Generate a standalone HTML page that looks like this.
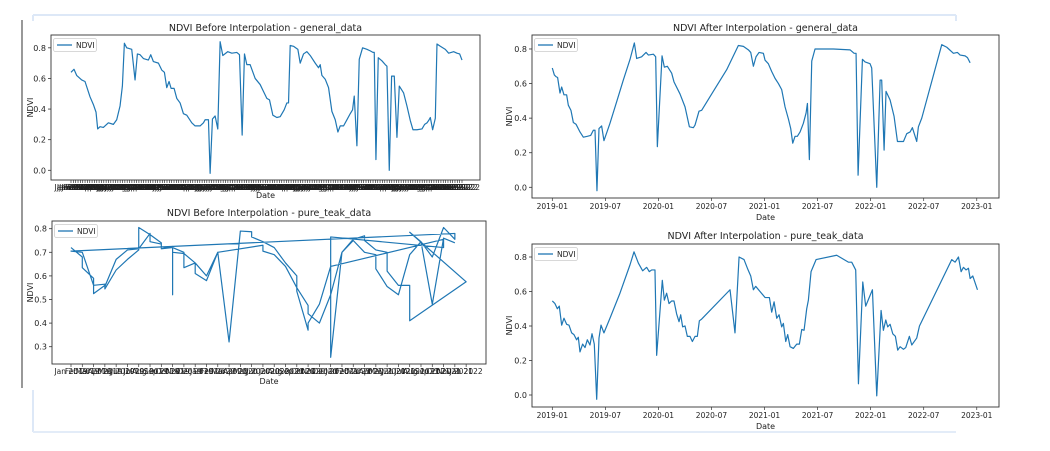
<!DOCTYPE html>
<html><head><meta charset="utf-8"><style>
html,body{margin:0;padding:0;background:#fff;}
svg{display:block;font-family:"DejaVu Sans","Liberation Sans",sans-serif;}
</style></head><body>
<svg id="svg" width="1050" height="451" viewBox="0 0 1050 451" xmlns="http://www.w3.org/2000/svg">
<g>
<line x1="33" y1="15" x2="956" y2="15" stroke="#dde8f7" stroke-width="2"/>
<line x1="33" y1="15" x2="33" y2="21" stroke="#dde8f7" stroke-width="2"/>
<line x1="956" y1="15" x2="956" y2="21" stroke="#dde8f7" stroke-width="2"/>
<line x1="22" y1="20" x2="22" y2="388" stroke="#555" stroke-width="1.2"/>
<line x1="33" y1="390" x2="33" y2="432" stroke="#dde8f7" stroke-width="2"/>
<line x1="33" y1="432" x2="956" y2="432" stroke="#e3ecf8" stroke-width="2"/>
</g>
</svg>
<script>
// ---- Chart 1: before interpolation, general_data (x = observation position) ----
const genBeforeObs = [0,9,17,32,42,57,67,75,80,87,97,112,127,137,147,154,160,167,182,192,199,207,217,232,239,247,262,272,280,287,294,300,309,317,327,337,347,362,372,387,397,402,412,417,424,432,440,447,455,470,482,497,505,513,520,527,537,552,567,577,587,595,605,617,627,639,647,652,657,667,680,687,697,707,717,732,742,747,752,762,772,782,792,800,807,817,827,837,844,849,857,864,874,887,897,905,909,914,921,932,942,947,954,961,969,977,984,997,1007,1017,1025,1037,1052,1060,1067,1072,1077,1084,1092,1097,1107,1122,1132,1147,1157,1165,1172];
const genBeforeNdvi = [.64,.66,.62,.59,.58,.48,.43,.38,.27,.285,.28,.31,.30,.33,.42,.55,.83,.80,.79,.59,.76,.755,.73,.72,.755,.71,.70,.655,.64,.54,.58,.535,.535,.47,.44,.37,.36,.31,.29,.29,.31,.33,.33,-.02,.335,.355,.27,.84,.75,.775,.765,.77,.755,.23,.76,.69,.69,.60,.56,.515,.47,.46,.36,.345,.35,.395,.44,.44,.815,.81,.79,.70,.76,.775,.75,.70,.67,.69,.62,.595,.54,.385,.33,.25,.29,.29,.33,.37,.395,.485,.16,.725,.80,.79,.78,.77,.77,.07,.735,.715,.69,.68,0.0,.615,.615,.215,.55,.505,.42,.325,.265,.265,.27,.30,.31,.325,.345,.265,.34,.825,.81,.79,.765,.775,.765,.76,.72];
const genBeforeTicks = [0,0.2,0.4,0.6,0.8];
const genBeforeTickCount = 168;

// ---- Chart 2: before interpolation, pure_teak_data (x = category index) ----
const teakBeforeCat = [0,1,1,2,2,3,3,4,5,6,6,7,8,8,9,9,9,10,11,11,12,13,14,15,16,16,17,18,19,20,20,21,21,22,23,33,33,23,23,24,25,26,26,27,28,28,29,30,30,30,35,30,31,32,33,34,34,0,1,2,3,3,4,5,6,7,7,8,8,9,10,10,11,12,13,17,17,18,19,20,21,21,22,23,24,25,26,27,27,28,29,30,31,32,33,34];
const teakBeforeNdvi = [.72,.68,.635,.59,.525,.56,.545,.625,.67,.71,.805,.775,.74,.715,.725,.52,.70,.695,.655,.61,.58,.70,.32,.79,.787,.765,.745,.72,.655,.60,.535,.37,.40,.48,.64,.755,.72,.765,.255,.70,.755,.77,.75,.71,.70,.62,.56,.56,.505,.41,.575,.785,.745,.68,.805,.755,.78,.705,.70,.56,.565,.555,.67,.71,.715,.78,.745,.735,.715,.72,.70,.635,.655,.60,.70,.73,.705,.69,.64,.55,.475,.44,.40,.52,.70,.75,.70,.69,.63,.555,.52,.69,.745,.48,.76,.74];
const teakBeforeTicks = [0.3,0.4,0.5,0.6,0.7,0.8];
const monthNames = ["Jan","Feb","Mar","Apr","May","Jun","Jul","Aug","Sep","Oct","Nov","Dec"];

// ---- Chart 3: after interpolation, general_data (x = months since 2019-01) ----
const genAfterMonth = [0,.23,.41,.6,.87,1.06,1.32,1.62,1.81,2.11,2.38,2.68,3.13,3.51,3.96,4.34,4.64,4.83,5.05,5.28,5.58,5.84,6.15,6.52,7.28,8.03,8.79,9.28,9.54,10.1,10.6,10.86,11.43,11.69,11.88,12.41,12.67,13.01,13.5,13.76,14.44,15.01,15.5,15.95,16.14,16.59,16.89,18.21,19.72,21.04,21.61,22.17,22.44,22.74,23.04,23.38,23.87,24.06,24.43,24.81,25.19,25.57,25.94,26.32,26.7,26.96,27.19,27.45,27.71,28.02,28.39,28.7,28.85,29.07,29.34,29.71,31.79,33.67,34.13,34.35,34.58,35.07,35.37,35.93,36.12,36.69,37.07,37.25,37.52,37.74,38.2,38.65,39.03,39.71,40.08,40.46,40.72,41.21,41.4,41.78,44.04,44.61,45.36,45.81,46.12,46.68,46.95,47.25];
const genAfterNdvi = [.69,.65,.64,.635,.545,.58,.535,.535,.475,.445,.375,.365,.32,.29,.295,.30,.33,.33,-.02,.34,.355,.27,.315,.37,.495,.62,.74,.835,.745,.755,.78,.765,.77,.755,.235,.76,.695,.70,.66,.61,.54,.465,.35,.345,.36,.44,.445,.555,.68,.82,.815,.795,.78,.70,.755,.78,.775,.735,.715,.67,.63,.60,.565,.465,.395,.34,.255,.295,.295,.32,.37,.43,.485,.16,.73,.80,.80,.795,.775,.775,.07,.74,.725,.715,.69,0.0,.62,.62,.215,.555,.505,.41,.265,.265,.31,.32,.345,.265,.35,.40,.825,.81,.775,.78,.765,.76,.75,.72];
const dateTickMonths = [0,6,12,18,24,30,36,42,48];
const dateTickLabels = ["2019-01","2019-07","2020-01","2020-07","2021-01","2021-07","2022-01","2022-07","2023-01"];
const afterYTicks = [0,0.2,0.4,0.6,0.8];

// ---- Chart 4: after interpolation, pure_teak_data ----
const teakAfterMonth = [0,.3,.57,.79,1.06,1.32,1.62,1.89,2.19,2.45,2.75,2.94,3.13,3.43,3.7,3.96,4.26,4.49,4.75,5.02,5.28,5.51,5.84,6.52,7.65,8.79,9.24,9.73,10.22,10.67,10.97,11.24,11.61,11.8,12.44,12.67,12.93,13.2,13.5,13.76,14.06,14.33,14.52,14.74,15.01,15.27,15.57,15.84,16.14,16.4,16.63,16.89,20.1,20.66,21.12,21.68,22.06,22.44,22.74,23,23.49,24.06,24.55,24.81,25.08,25.38,25.64,25.94,26.13,26.4,26.62,26.89,27.26,27.64,27.94,28.21,28.47,28.77,28.96,29.26,29.83,32.16,33.48,33.86,34.31,34.62,35.11,35.44,36.2,36.69,37.18,37.44,37.71,37.93,38.2,38.5,38.8,39.06,39.33,39.71,39.97,40.38,40.65,41.21,41.52,45.17,45.55,45.93,46.23,46.49,46.79,47.06,47.25,47.55,48.08];
const teakAfterNdvi = [.545,.53,.50,.515,.405,.445,.41,.405,.36,.35,.32,.335,.25,.295,.275,.32,.29,.355,.295,-.025,.33,.405,.36,.445,.59,.755,.83,.765,.72,.74,.715,.725,.725,.23,.665,.55,.59,.53,.545,.545,.47,.425,.465,.395,.40,.34,.34,.31,.34,.34,.43,.44,.61,.36,.80,.785,.735,.69,.61,.63,.60,.565,.565,.48,.54,.445,.465,.395,.415,.31,.35,.28,.27,.295,.295,.38,.375,.50,.55,.715,.785,.81,.77,.77,.725,.065,.655,.515,.61,-.005,.49,.375,.435,.395,.41,.355,.34,.26,.28,.265,.275,.34,.29,.33,.40,.785,.77,.80,.715,.74,.725,.735,.675,.69,.61];

const NS = "http://www.w3.org/2000/svg";
const svg = document.getElementById("svg");
function mk(tag, attrs, parent, text){
  const e = document.createElementNS(NS, tag);
  for (const k in attrs) e.setAttribute(k, attrs[k]);
  if (text !== undefined) e.textContent = text;
  (parent || svg).appendChild(e);
  return e;
}
const BLUE = "#1f77b4";

function chart(cfg){
  const g = mk("g", {});
  
  
  const t = mk("text", {x:(cfg.x0+cfg.x1)/2, y:cfg.titleY, "text-anchor":"middle", "font-size":"9.5", fill:"#222"}, g, cfg.title);
  
  
  // y ticks
  cfg.yTicks.forEach(v => {
    const y = cfg.ys(v);
    mk("line", {x1:cfg.x0-3, x2:cfg.x0, y1:y, y2:y, stroke:"#333", "stroke-width":"0.8"}, g);
    const tl = mk("text", {x:cfg.x0-5, y:y+3, "text-anchor":"end", "font-size":"8", fill:"#222"}, g, v.toFixed(1));
    
    
  });
  // x ticks
  cfg.xTicks.forEach((xt) => {
    const x = cfg.xs(xt.v);
    mk("line", {x1:x, x2:x, y1:cfg.y1, y2:cfg.y1+3, stroke:"#333", "stroke-width":"0.7"}, g);
    const tl = mk("text", {x:x, y:cfg.y1+cfg.tickLabelDy, "text-anchor":"middle", "font-size":cfg.xFont, fill:"#222"}, g, xt.label);
    
    
  });
  const yl = mk("text", {x:0, y:0, transform:`translate(${cfg.yLabelX},${(cfg.y0+cfg.y1)/2}) rotate(-90)`, "text-anchor":"middle", "font-size":"8", fill:"#222"}, g, "NDVI");
  
  
  const xl = mk("text", {x:(cfg.x0+cfg.x1)/2, y:cfg.dateY, "text-anchor":"middle", "font-size":"8", fill:"#222"}, g, "Date");
  
  
  // series
  const pts = cfg.xd.map((xv,i) => cfg.xs(xv).toFixed(2)+","+cfg.ys(cfg.yd[i]).toFixed(2)).join(" ");
  const pl = mk("polyline", {points:pts, fill:"none", stroke:BLUE, "stroke-width":"1.2", "stroke-linejoin":"round"}, g);
  
  
  // frame
  const fr = mk("rect", {x:cfg.x0, y:cfg.y0, width:cfg.x1-cfg.x0, height:cfg.y1-cfg.y0, fill:"none", stroke:"#333", "stroke-width":"0.9"}, g);
  
  
  // legend
  const lg = mk("g", {}, g);
  
  
  mk("rect", {x:cfg.x0+2.5, y:cfg.y0+3.5, width:43, height:13, rx:2, fill:"#fff", stroke:"#ccc", "stroke-width":"0.8"}, lg);
  mk("line", {x1:cfg.x0+6, x2:cfg.x0+21, y1:cfg.y0+10, y2:cfg.y0+10, stroke:BLUE, "stroke-width":"1.3"}, lg);
  const le = mk("text", {x:cfg.x0+25, y:cfg.y0+13, "font-size":"7.5", fill:"#222"}, lg, "NDVI");
  
  
}

// Chart 1
const c1Ticks = [];
for (let i = 0; i < genBeforeTickCount; i++) {
  const yr = 2019 + Math.floor(i/42);
  c1Ticks.push({v: i*1172/(genBeforeTickCount-1), label: monthNames[Math.floor(i/3.5)%12]+" "+(i===genBeforeTickCount-1?2022:yr)});
}
chart({name:"chart-before-general", title:"NDVI Before Interpolation - general_data",
  x0:51, x1:480, y0:35, y1:180, titleY:31, dateY:198, yLabelX:33, tickLabelDy:10, xFont:"7.5",
  xs: v => 71 + v*(462-71)/1172, ys: v => 170.3 - v*153.1,
  yTicks: genBeforeTicks, xTicks: c1Ticks, xd: genBeforeObs, yd: genBeforeNdvi});

// Chart 2
const c2Ticks = [];
for (let i = 0; i < 36; i++) {
  const lab = i===35 ? "Jan 2022" : monthNames[i%12]+" "+(2019+Math.floor(i/12));
  c2Ticks.push({v:i, label:lab});
}
chart({name:"chart-before-pure-teak", title:"NDVI Before Interpolation - pure_teak_data",
  x0:52, x1:486, y0:221, y1:364, titleY:216, dateY:384, yLabelX:33, tickLabelDy:10, xFont:"7.5",
  xs: v => 71 + v*11.29, ys: v => 228.7 + (0.8-v)*236,
  yTicks: teakBeforeTicks, xTicks: c2Ticks, xd: teakBeforeCat, yd: teakBeforeNdvi});

const dateTicks = dateTickMonths.map((m,i) => ({v:m, label:dateTickLabels[i]}));
// Chart 3
chart({name:"chart-after-general", title:"NDVI After Interpolation - general_data",
  x0:532, x1:999, y0:35, y1:198, titleY:31, dateY:220, yLabelX:512, tickLabelDy:11, xFont:"7.5",
  xs: v => 552.3 + v*8.843, ys: v => 187.3 - v*172.9,
  yTicks: afterYTicks, xTicks: dateTicks, xd: genAfterMonth, yd: genAfterNdvi});
// Chart 4
chart({name:"chart-after-pure-teak", title:"NDVI After Interpolation - pure_teak_data",
  x0:532, x1:999, y0:244, y1:407, titleY:239, dateY:429, yLabelX:512, tickLabelDy:11, xFont:"7.5",
  xs: v => 552.3 + v*8.843, ys: v => 395 - v*172.5,
  yTicks: afterYTicks, xTicks: dateTicks, xd: teakAfterMonth, yd: teakAfterNdvi});
</script>
</body></html>
